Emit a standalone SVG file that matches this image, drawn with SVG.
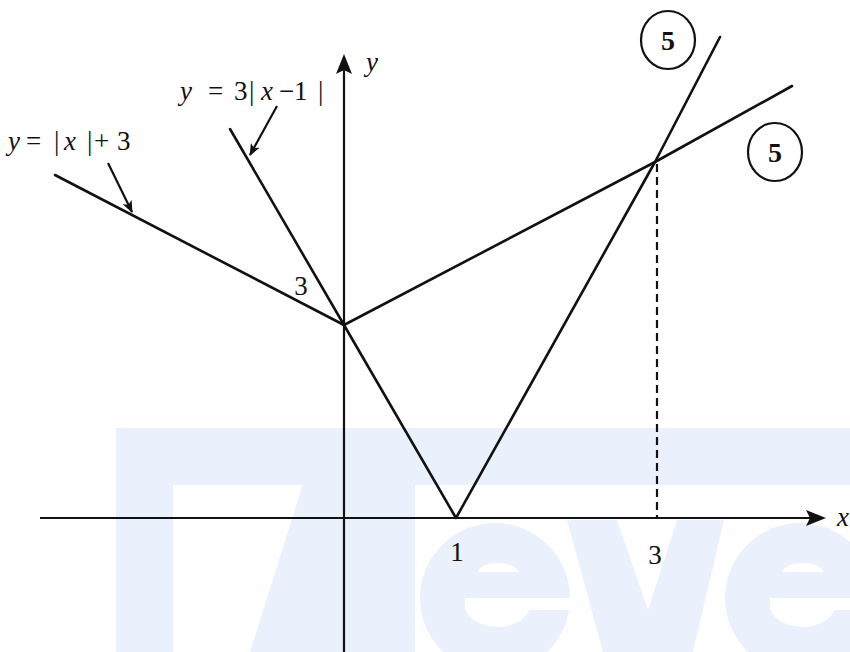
<svg xmlns="http://www.w3.org/2000/svg" width="850" height="652" viewBox="0 0 850 652">
  <defs>
    <style>
      .wm { fill: #ebf1fc; }
      .wmcut { fill: #ffffff; }
      .ln { stroke: #111; stroke-width: 2.6; fill: none; stroke-linecap: round; stroke-linejoin: round; }
      .ax { stroke: #111; stroke-width: 2.2; fill: none; }
      .dash { stroke: #111; stroke-width: 2.2; fill: none; stroke-dasharray: 8 5; }
      .ptr { stroke: #111; stroke-width: 2.2; fill: none; }
      .t { font-family: "Liberation Serif", "Times New Roman", serif; font-size: 27px; fill: #111; }
      .it { font-style: italic; }
      .b5 { font-family: "Liberation Serif", "Times New Roman", serif; font-size: 28px; font-weight: bold; fill: #111; text-anchor: middle; }
      .circ { stroke: #111; stroke-width: 2.2; fill: none; }
    </style>
    <marker id="ah" markerWidth="12" markerHeight="10" refX="11" refY="5" orient="auto" markerUnits="userSpaceOnUse">
      <path d="M0,0 L12,5 L0,10 L3,5 Z" fill="#111"/>
    </marker>
  </defs>

  <rect x="0" y="0" width="850" height="652" fill="#ffffff"/>

  <!-- watermark -->
  <g id="watermark">
    <rect class="wm" x="116" y="428" width="734" height="57"/>
    <rect class="wm" x="116" y="484" width="57" height="168"/>
    <polygon class="wm" points="303,484 415,484 415,652 250,652"/>
    <g id="wm-e1">
      <circle class="wm" cx="495" cy="598" r="75"/>
      <path class="wmcut" d="M478,572 A20,9 0 0 1 518,572 Z"/>
      <rect class="wmcut" x="465" y="598" width="106" height="12"/>
      <path class="wmcut" d="M465,605 A32.5,22 0 0 0 530,605 Z"/>
    </g>
    <polygon class="wm" points="567,520 617,520 648,610 677,520 724,520 693,652 603,652"/>
    <g id="wm-e2" transform="translate(305,0)">
      <circle class="wm" cx="495" cy="598" r="75"/>
      <path class="wmcut" d="M478,572 A20,9 0 0 1 518,572 Z"/>
      <rect class="wmcut" x="465" y="598" width="106" height="12"/>
      <path class="wmcut" d="M465,605 A32.5,22 0 0 0 530,605 Z"/>
    </g>
  </g>

  <!-- axes -->
  <g id="axes">
    <line class="ax" x1="40" y1="518" x2="812" y2="518" stroke-width="2.8"/>
    <path d="M826,518 L806,510 L810,518 L806,526 Z" fill="#111"/>
    <line class="ax" x1="344" y1="652" x2="344" y2="70"/>
    <path d="M344,54 L336,74 L344,70 L352,74 Z" fill="#111"/>
    <text class="t it" x="837" y="526" font-family="Liberation Serif, serif">x</text>
    <text class="t it" x="366" y="71" font-family="Liberation Serif, serif">y</text>
  </g>

  <!-- graphs -->
  <g id="connectors">
    <polyline id="graph-abs-plus3" class="ln" points="55,175 344,325 655,162 792,86"/>
    <polyline id="graph-3abs" class="ln" points="230,129 344,325 456,518 655,162 720,37"/>
    <line class="dash" x1="657" y1="164" x2="657" y2="518"/>
    <line class="ptr" x1="108" y1="163" x2="132" y2="212" marker-end="url(#ah)"/>
    <line class="ptr" x1="277" y1="106" x2="250" y2="155" marker-end="url(#ah)"/>
  </g>

  <!-- labels -->
  <g id="label-abs-plus3">
    <text class="t" font-family="Liberation Serif, serif"><tspan class="it" x="8" y="150">y</tspan><tspan x="26" y="150">=</tspan><tspan x="54" y="150">|</tspan><tspan class="it" x="64" y="150">x</tspan><tspan x="87" y="150">|</tspan><tspan x="94" y="150">+</tspan><tspan x="117" y="150">3</tspan></text>
  </g>
  <g id="label-3abs">
    <text class="t" font-family="Liberation Serif, serif"><tspan class="it" x="180" y="100">y</tspan><tspan x="208" y="100">=</tspan><tspan x="234" y="100">3</tspan><tspan x="249" y="100">|</tspan><tspan class="it" x="261" y="100">x</tspan><tspan x="279" y="100">−</tspan><tspan x="294" y="100">1</tspan><tspan x="318" y="100">|</tspan></text>
  </g>
  <g id="tick-labels">
    <text class="t" x="301" y="295" text-anchor="middle" font-family="Liberation Serif, serif">3</text>
    <text class="t" x="457" y="561" text-anchor="middle" font-family="Liberation Serif, serif">1</text>
    <text class="t" x="655" y="564" text-anchor="middle" font-family="Liberation Serif, serif">3</text>
  </g>

  <g id="mark-1">
    <ellipse class="circ" cx="668" cy="40" rx="27" ry="29"/>
    <text class="b5" x="668" y="50">5</text>
  </g>
  <g id="mark-2">
    <ellipse class="circ" cx="775" cy="152" rx="27" ry="29"/>
    <text class="b5" x="775" y="162">5</text>
  </g>
</svg>
